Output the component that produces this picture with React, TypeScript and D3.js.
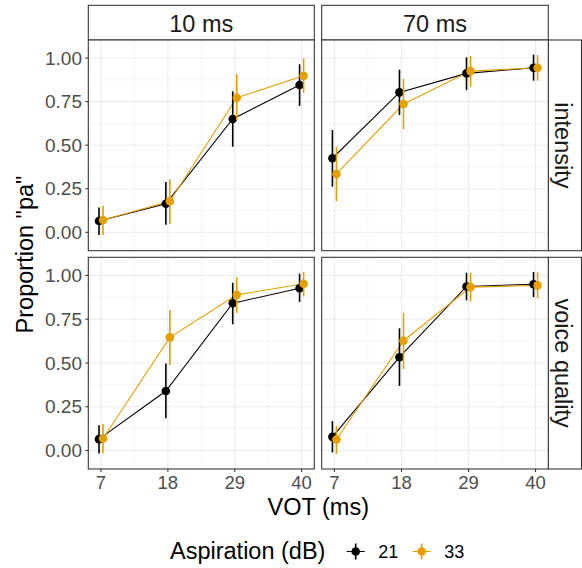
import React from "react";
import * as d3 from "d3";

const vots = [7, 18, 29, 40];
const durations = ["10 ms", "70 ms"];
const cues = ["intensity", "voice quality"];
const aspirations = ["21", "33"];
const colors = ["#000000", "#E69F00"];
const yTicks = [0, 0.25, 0.5, 0.75, 1];
const yTickLabels = ["0.00", "0.25", "0.50", "0.75", "1.00"];
const yMinor = [0.125, 0.375, 0.625, 0.875];
const xMinor = [12.5, 23.5, 34.5];

// [cue][duration][aspiration] -> values for each VOT
const meanIntensity10_21 = [0.065, 0.164, 0.65, 0.845];
const lowIntensity10_21 = [-0.015, 0.044, 0.491, 0.725];
const highIntensity10_21 = [0.143, 0.289, 0.809, 0.964];
const meanIntensity10_33 = [0.071, 0.178, 0.772, 0.898];
const lowIntensity10_33 = [-0.015, 0.048, 0.644, 0.8];
const highIntensity10_33 = [0.153, 0.304, 0.908, 0.998];

const meanIntensity70_21 = [0.425, 0.803, 0.912, 0.944];
const lowIntensity70_21 = [0.262, 0.673, 0.816, 0.87];
const highIntensity70_21 = [0.587, 0.933, 1.004, 1.02];
const meanIntensity70_33 = [0.335, 0.736, 0.925, 0.944];
const lowIntensity70_33 = [0.178, 0.591, 0.835, 0.87];
const highIntensity70_33 = [0.491, 0.88, 1.012, 1.017];

const meanVoice10_21 = [0.065, 0.34, 0.841, 0.927];
const lowVoice10_21 = [-0.017, 0.184, 0.721, 0.849];
const highVoice10_21 = [0.145, 0.497, 0.958, 1.01];
const meanVoice10_33 = [0.069, 0.646, 0.889, 0.952];
const lowVoice10_33 = [-0.015, 0.489, 0.786, 0.881];
const highVoice10_33 = [0.153, 0.803, 0.99, 1.02];

const meanVoice70_21 = [0.078, 0.533, 0.937, 0.95];
const lowVoice70_21 = [-0.011, 0.369, 0.858, 0.876];
const highVoice70_21 = [0.168, 0.698, 1.015, 1.02];
const meanVoice70_33 = [0.063, 0.627, 0.933, 0.943];
const lowVoice70_33 = [-0.019, 0.466, 0.853, 0.869];
const highVoice70_33 = [0.141, 0.786, 1.015, 1.018];

type Series = { mean: number[]; low: number[]; high: number[] };
const panels: Series[][][] = [
  [
    [
      { mean: meanIntensity10_21, low: lowIntensity10_21, high: highIntensity10_21 },
      { mean: meanIntensity10_33, low: lowIntensity10_33, high: highIntensity10_33 },
    ],
    [
      { mean: meanIntensity70_21, low: lowIntensity70_21, high: highIntensity70_21 },
      { mean: meanIntensity70_33, low: lowIntensity70_33, high: highIntensity70_33 },
    ],
  ],
  [
    [
      { mean: meanVoice10_21, low: lowVoice10_21, high: highVoice10_21 },
      { mean: meanVoice10_33, low: lowVoice10_33, high: highVoice10_33 },
    ],
    [
      { mean: meanVoice70_21, low: lowVoice70_21, high: highVoice70_21 },
      { mean: meanVoice70_33, low: lowVoice70_33, high: highVoice70_33 },
    ],
  ],
];

const FONT = "'Liberation Sans', Arial, Helvetica, sans-serif";
const colX = [[88.3, 314.3], [321.7, 548.3]];
const rowY = [[40, 250.7], [257.3, 469]];
const stripTop = 5.3;
const stripRight = 581.5;
const dodge = [-0.33, 0.33];

export default function App() {
  const border = "#333333";
  return (
    <svg width={582} height={568} style={{ position: "absolute", left: 0, top: 0 }} fontFamily={FONT}>
      <rect width={582} height={568} fill="white" />
      {/* top strips */}
      {durations.map((d, c) => (
        <g key={"st" + c}>
          <rect x={colX[c][0]} y={stripTop} width={colX[c][1] - colX[c][0]} height={rowY[0][0] - stripTop}
            fill="white" stroke={border} strokeWidth={1.07} />
          <text x={(colX[c][0] + colX[c][1]) / 2} y={32.3} textAnchor="middle" fontSize={23.5} fill="#1A1A1A">{d}</text>
        </g>
      ))}
      {/* right strips */}
      {cues.map((q, r) => (
        <g key={"sr" + r}>
          <rect x={colX[1][1]} y={rowY[r][0]} width={stripRight - colX[1][1]} height={rowY[r][1] - rowY[r][0]}
            fill="white" stroke={border} strokeWidth={1.07} />
          <text transform={`translate(${563},${(rowY[r][0] + rowY[r][1]) / 2}) rotate(90)`} textAnchor="middle"
            dy="0.35em" fontSize={23.5} fill="#1A1A1A">{q}</text>
        </g>
      ))}
      {cues.map((_, r) =>
        durations.map((_, c) => {
          const x = d3.scaleLinear().domain([4.91, 42.09]).range(colX[c]);
          const y = d3.scaleLinear().domain([-0.1055, 1.1035]).range([rowY[r][1], rowY[r][0]]);
          const line = d3.line<[number, number]>().x((p) => x(p[0])).y((p) => y(p[1]));
          const groups = panels[r][c];
          return (
            <g key={`p${r}${c}`}>
              <rect x={colX[c][0]} y={rowY[r][0]} width={colX[c][1] - colX[c][0]} height={rowY[r][1] - rowY[r][0]} fill="white" />
              {yMinor.map((v) => (
                <line key={"ym" + v} x1={colX[c][0]} x2={colX[c][1]} y1={y(v)} y2={y(v)} stroke="#EBEBEB" strokeWidth={0.55} />
              ))}
              {xMinor.map((v) => (
                <line key={"xm" + v} x1={x(v)} x2={x(v)} y1={rowY[r][0]} y2={rowY[r][1]} stroke="#EBEBEB" strokeWidth={0.55} />
              ))}
              {yTicks.map((v) => (
                <line key={"yg" + v} x1={colX[c][0]} x2={colX[c][1]} y1={y(v)} y2={y(v)} stroke="#EBEBEB" strokeWidth={1.07} />
              ))}
              {vots.map((v) => (
                <line key={"xg" + v} x1={x(v)} x2={x(v)} y1={rowY[r][0]} y2={rowY[r][1]} stroke="#EBEBEB" strokeWidth={1.07} />
              ))}
              {groups.map((s, g) => (
                <path key={"l" + g} d={line(vots.map((v, i) => [v + dodge[g], s.mean[i]] as [number, number])) || ""}
                  fill="none" stroke={colors[g]} strokeWidth={1.07} />
              ))}
              {groups.map((s, g) => (
                <g key={"pr" + g}>
                  {vots.map((v, i) => (
                    <g key={i}>
                      <line x1={x(v + dodge[g])} x2={x(v + dodge[g])} y1={y(s.low[i])} y2={y(s.high[i])}
                        stroke={colors[g]} strokeWidth={1.6} />
                      <circle cx={x(v + dodge[g])} cy={y(s.mean[i])} r={4.3} fill={colors[g]} />
                    </g>
                  ))}
                </g>
              ))}
              <rect x={colX[c][0]} y={rowY[r][0]} width={colX[c][1] - colX[c][0]} height={rowY[r][1] - rowY[r][0]}
                fill="none" stroke={border} strokeWidth={1.07} />
              {c === 0 && yTicks.map((v, i) => (
                <g key={"yt" + v}>
                  <line x1={colX[c][0] - 3} x2={colX[c][0]} y1={y(v)} y2={y(v)} stroke={border} strokeWidth={1.07} />
                  <text x={82} y={y(v)} dy="0.35em" textAnchor="end" fontSize={19} fill="#4D4D4D">{yTickLabels[i]}</text>
                </g>
              ))}
              {r === 1 && vots.map((v) => (
                <g key={"xt" + v}>
                  <line x1={x(v)} x2={x(v)} y1={rowY[r][1]} y2={rowY[r][1] + 3} stroke={border} strokeWidth={1.07} />
                  <text x={x(v)} y={489.3} textAnchor="middle" fontSize={18.5} fill="#4D4D4D">{v}</text>
                </g>
              ))}
            </g>
          );
        })
      )}
      {/* axis titles */}
      <text x={(colX[0][0] + colX[1][1]) / 2} y={515} textAnchor="middle" fontSize={23.5} fill="black">VOT (ms)</text>
      <text transform={`translate(33,${(rowY[0][0] + rowY[1][1]) / 2}) rotate(-90)`} textAnchor="middle" fontSize={23.5} fill="black">Proportion "pa"</text>
      {/* legend */}
      <text x={170} y={558.5} fontSize={23.5} fill="black">Aspiration (dB)</text>
      {aspirations.map((a, g) => {
        const cx = 355.7 + g * 66;
        const cy = 551.5;
        return (
          <g key={"lg" + a}>
            <line x1={cx - 9} x2={cx + 9} y1={cy} y2={cy} stroke={colors[g]} strokeWidth={1.07} />
            <line x1={cx} x2={cx} y1={cy - 8} y2={cy + 8} stroke={colors[g]} strokeWidth={1.6} />
            <circle cx={cx} cy={cy} r={4.3} fill={colors[g]} />
            <text x={cx + 22.6} y={558} fontSize={18} fill="black">{a}</text>
          </g>
        );
      })}
    </svg>
  );
}
